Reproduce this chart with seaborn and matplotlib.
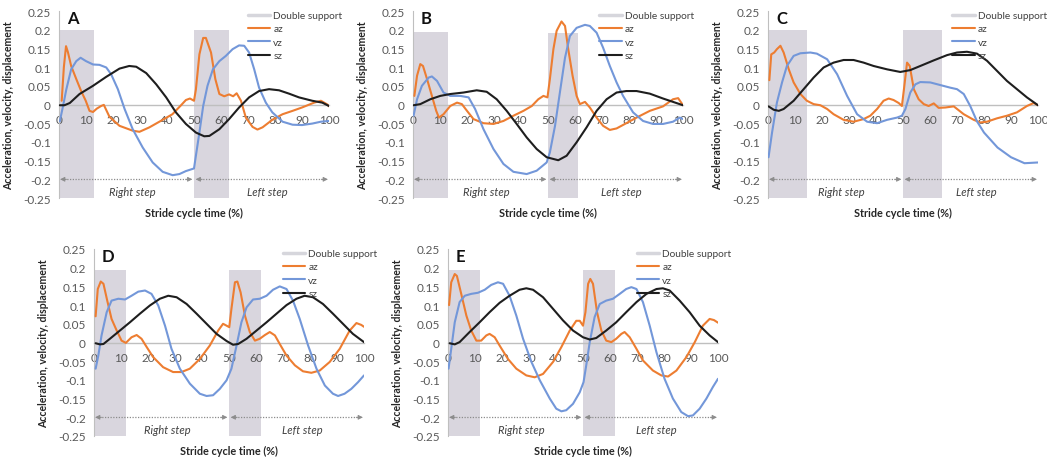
import matplotlib
matplotlib.use("Agg")
import matplotlib.pyplot as plt
import numpy as np
import pandas as pd
import seaborn as sns
from matplotlib.lines import Line2D

sns.set_theme(style="white")
plt.rcParams["font.family"] = ["Lato", "DejaVu Sans"]

# ---------------- data ----------------
panel_labels = ["A", "B", "C", "D", "E"]
series_names = ["az", "vz", "sz"]
legend_labels = ["Double support", "az", "vz", "sz"]
x_ticks = [0, 10, 20, 30, 40, 50, 60, 70, 80, 90, 100]
y_ticks = [0.25, 0.2, 0.15, 0.1, 0.05, 0, -0.05, -0.1, -0.15, -0.2, -0.25]
y_tick_labels = ["0.25", "0.2", "0.15", "0.1", "0.05", "0", "-0.05", "-0.1", "-0.15", "-0.2", "-0.25"]
step_labels = ["Right step", "Left step"]
x_label = "Stride cycle time (%)"
y_label = "Acceleration, velocity, displacement"

# double support intervals (start, end, top)
A_ds = [(0, 13, 0.2), (50, 63, 0.2)]
B_ds = [(0, 13, 0.195), (50, 61, 0.19)]
C_ds = [(0, 14.4, 0.2), (50, 64.4, 0.2)]
D_ds = [(0, 12, 0.195), (50, 62, 0.195)]
E_ds = [(0, 12, 0.195), (50, 62, 0.195)]

A_az = [(1, 0.01), (1.8, 0.1), (2.6, 0.156), (3.3, 0.14), (4.5, 0.103), (6.4, 0.068), (8.2, 0.036),
        (9.9, 0.01), (11.3, -0.017), (12.6, -0.02), (14, -0.011), (15.6, -0.004), (16.6, -0.001),
        (18.7, -0.033), (22.4, -0.057), (27.3, -0.07), (29.8, -0.073), (33.5, -0.061), (38.4, -0.041),
        (42, -0.026), (45.2, -0.002), (47, 0.012), (48.5, 0.016), (50, 0.01), (50.7, 0.04), (52, 0.134),
        (53.4, 0.178), (54.4, 0.178), (56.3, 0.139), (57.9, 0.068), (59.4, 0.028), (61.2, 0.022),
        (63, 0.027), (64.5, 0.022), (65.8, 0.03), (67.4, 0.01), (69.2, -0.035), (71.7, -0.06),
        (73.5, -0.067), (75.4, -0.061), (79, -0.041), (82.8, -0.026), (86.5, -0.017), (90, -0.008),
        (94.5, 0.005), (97, 0.01), (99.4, 0.0), (100, -0.005)]
A_vz = [(0.3, -0.045), (1.5, -0.004), (2.7, 0.04), (4.5, 0.094), (6.4, 0.116), (8, 0.125), (10, 0.116),
        (12.6, 0.107), (15, 0.106), (17.5, 0.099), (19.3, 0.081), (21.8, 0.041), (24.3, -0.012),
        (27.3, -0.066), (31, -0.115), (34.7, -0.155), (38.4, -0.18), (42.1, -0.189), (44.6, -0.186),
        (47, -0.178), (50, -0.171), (50.7, -0.137), (52, -0.075), (53.4, -0.004), (55, 0.05), (57, 0.094),
        (59.4, 0.116), (61.8, 0.13), (64.3, 0.148), (66.7, 0.158), (68.6, 0.157), (70.4, 0.139),
        (72.3, 0.094), (74.1, 0.045), (76.6, 0.005), (79, -0.021), (82.8, -0.046), (86.5, -0.054),
        (90, -0.055), (93.8, -0.051), (97, -0.046), (100, -0.044)]
A_sz = [(0.3, -0.002), (2, -0.002), (4, 0.004), (7.6, 0.028), (12.6, 0.05), (17.5, 0.074), (22.4, 0.096),
        (26, 0.103), (28.6, 0.101), (32.3, 0.084), (36, 0.054), (39.7, 0.019), (43.3, -0.021),
        (47, -0.052), (50.7, -0.075), (53.8, -0.085), (55.7, -0.084), (59.4, -0.066), (63, -0.039),
        (66.7, -0.008), (70.4, 0.019), (74.1, 0.036), (77.8, 0.041), (81.5, 0.038), (85.2, 0.029),
        (88.9, 0.019), (93.8, 0.01), (97.5, 0.005), (100, -0.004)]

B_az = [(0.5, 0.023), (1.5, 0.077), (2.7, 0.108), (3.7, 0.103), (5.2, 0.068), (7, 0.023), (8.6, -0.017),
        (9.6, -0.035), (11.3, -0.026), (13.8, -0.004), (16.3, 0.005), (18.1, 0.001), (20, -0.017),
        (22.4, -0.039), (26.1, -0.05), (29.8, -0.052), (33.5, -0.044), (37.2, -0.03), (40.9, -0.017),
        (44, -0.004), (46.4, 0.014), (48.3, 0.023), (49.8, 0.019), (50.7, 0.068), (52, 0.148),
        (53.2, 0.197), (55, 0.222), (56.3, 0.21), (57.5, 0.148), (59.1, 0.077), (60.6, 0.023),
        (61.8, 0.001), (63.7, 0.007), (65.5, -0.008), (68, -0.035), (70.4, -0.057), (72.9, -0.068),
        (75.4, -0.064), (79, -0.05), (82.8, -0.035), (87.7, -0.017), (92.6, -0.005), (96.3, 0.014),
        (98.2, 0.017), (100, -0.002)]
B_vz = [(0.2, -0.03), (1.5, 0.014), (3.3, 0.05), (5.8, 0.072), (7, 0.075), (8.9, 0.063), (11.3, 0.032),
        (13.8, 0.023), (17.5, 0.023), (20.6, 0.019), (23, -0.012), (26.1, -0.066), (29.8, -0.119),
        (33.5, -0.159), (37.2, -0.18), (42.1, -0.186), (45.8, -0.177), (49.5, -0.155), (50.7, -0.128),
        (52.6, -0.057), (54.4, 0.032), (56.3, 0.125), (58.1, 0.183), (60.6, 0.205), (63.7, 0.213),
        (65.5, 0.21), (68, 0.192), (70.4, 0.152), (72.9, 0.103), (75.4, 0.059), (77.8, 0.023),
        (81.5, -0.021), (85.2, -0.044), (88.9, -0.052), (92.6, -0.052), (96.3, -0.046), (98.8, -0.035),
        (100, -0.039)]
B_sz = [(0.2, -0.002), (2.7, 0.001), (6.4, 0.014), (10.1, 0.023), (13.8, 0.028), (18.7, 0.032),
        (23.6, 0.038), (27.3, 0.034), (31, 0.014), (34.7, -0.017), (38.4, -0.052), (42.1, -0.088),
        (45.8, -0.119), (49.5, -0.141), (53.8, -0.149), (56.9, -0.137), (60.6, -0.101), (64.3, -0.061),
        (68, -0.017), (71.7, 0.014), (75.4, 0.032), (79, 0.036), (82.8, 0.036), (87.7, 0.029),
        (92.6, 0.016), (96.3, 0.007), (100, -0.002)]

C_az = [(0.5, 0.065), (1.2, 0.134), (2.3, 0.139), (3.3, 0.148), (4.6, 0.157), (5.8, 0.139), (7.7, 0.094),
        (9.5, 0.059), (12, 0.028), (14.4, 0.01), (16.9, 0.001), (19.4, -0.002), (21.9, -0.012),
        (24.3, -0.026), (28, -0.041), (31.7, -0.046), (35.4, -0.039), (37.9, -0.03), (40.4, -0.012),
        (42.8, 0.01), (44.7, 0.016), (46.5, 0.012), (48.4, 0.004), (49.6, -0.004), (50.5, 0.05),
        (51.5, 0.112), (52.5, 0.103), (54, 0.041), (55.8, 0.014), (57.7, 0.001), (59.5, -0.004),
        (61.4, 0.003), (63.2, -0.009), (65.7, -0.008), (68.8, -0.005), (72.5, -0.026), (76.2, -0.041),
        (78.6, -0.048), (81.1, -0.046), (84.8, -0.037), (88.5, -0.03), (92.2, -0.021), (95.9, -0.004),
        (98.4, 0.004), (100, -0.002)]
C_vz = [(0.2, -0.141), (1.5, -0.075), (3.3, 0.005), (5.2, 0.059), (7, 0.103), (9.5, 0.13), (12, 0.137),
        (15.7, 0.139), (18.1, 0.136), (21.9, 0.121), (25.6, 0.081), (29.3, 0.023), (33, -0.026),
        (36.7, -0.046), (40.4, -0.05), (44.1, -0.041), (47.8, -0.035), (49.6, -0.03), (50.9, -0.012),
        (52.7, 0.032), (54.6, 0.054), (56.4, 0.06), (60.1, 0.059), (63.8, 0.052), (67.5, 0.045),
        (70, 0.041), (72.5, 0.028), (74.9, -0.004), (77.4, -0.045), (80, -0.075), (85, -0.115),
        (90, -0.141), (95, -0.157), (100, -0.155)]
C_sz = [(0.2, -0.005), (2.1, -0.014), (4, -0.017), (5.8, -0.012), (9.5, 0.01), (13.2, 0.041),
        (16.9, 0.072), (20.6, 0.099), (24.3, 0.112), (28, 0.119), (31.7, 0.119), (35.4, 0.112),
        (39.1, 0.103), (44.1, 0.094), (49, 0.087), (52.7, 0.092), (56.4, 0.103), (61.4, 0.118),
        (66.3, 0.132), (70, 0.139), (73.7, 0.141), (77.4, 0.136), (81.1, 0.117), (84.8, 0.09),
        (88.5, 0.063), (92.2, 0.041), (95.9, 0.019), (100, -0.002)]

D_az = [(0.6, 0.07), (1.4, 0.143), (2.5, 0.163), (3.5, 0.157), (4.9, 0.112), (6.5, 0.063), (8.4, 0.032),
        (10.2, 0.005), (11.8, -0.001), (13.9, 0.014), (15.8, 0.02), (17.6, 0.01), (19.5, -0.012),
        (21.9, -0.039), (25.6, -0.066), (29.3, -0.079), (32.4, -0.079), (35.5, -0.07), (39.2, -0.044),
        (42.9, -0.008), (46, 0.032), (47.8, 0.05), (49.1, 0.045), (50.1, 0.041), (50.9, 0.09),
        (52.2, 0.161), (53.1, 0.163), (54.3, 0.134), (55.9, 0.072), (57.7, 0.028), (59.6, 0.005),
        (61.4, 0.01), (63.3, 0.02), (65.1, 0.028), (67, 0.019), (68.8, -0.004), (71.3, -0.035),
        (74.4, -0.061), (77.4, -0.077), (80.5, -0.081), (83.6, -0.075), (87.3, -0.052), (91, -0.017),
        (94.7, 0.032), (97.2, 0.052), (99, 0.047), (100, 0.042)]
D_vz = [(0.6, -0.07), (1.6, -0.035), (2.8, 0.019), (4.7, 0.081), (6.5, 0.112), (9, 0.117), (11.5, 0.115),
        (13.9, 0.125), (16.4, 0.136), (18.9, 0.139), (21.3, 0.13), (23.8, 0.099), (26.3, 0.045),
        (28.7, -0.017), (31.8, -0.07), (35.5, -0.11), (39.2, -0.137), (41.7, -0.143), (44.1, -0.141),
        (46.6, -0.124), (49.1, -0.101), (50.9, -0.07), (52.8, -0.008), (54.6, 0.054), (56.5, 0.094),
        (58.9, 0.115), (61.4, 0.117), (63.9, 0.125), (66.3, 0.141), (68.8, 0.15), (71.3, 0.143),
        (73.7, 0.112), (76.2, 0.063), (79.3, -0.008), (82.4, -0.07), (85.5, -0.115), (88.5, -0.137),
        (90.4, -0.143), (92.8, -0.137), (95.3, -0.124), (97.8, -0.106), (100, -0.088)]
D_sz = [(0.6, -0.002), (2.2, -0.005), (3.5, -0.004), (5.9, 0.01), (9.6, 0.032), (13.3, 0.054),
        (17, 0.077), (20.7, 0.099), (24.4, 0.117), (27.5, 0.125), (30.6, 0.121), (34.3, 0.103),
        (38, 0.077), (41.7, 0.05), (45.4, 0.023), (49.1, 0.004), (51.5, -0.006), (53.4, -0.004),
        (56.5, 0.01), (60.2, 0.032), (63.9, 0.054), (67.6, 0.077), (71.3, 0.1), (75, 0.117), (78, 0.125),
        (81.1, 0.121), (84.8, 0.103), (88.5, 0.077), (92.2, 0.05), (95.9, 0.023), (100, 0.001)]

E_az = [(0.4, 0.1), (1.2, 0.161), (2.5, 0.183), (3.3, 0.178), (4.9, 0.13), (6.8, 0.072), (8.6, 0.032),
        (10.5, 0.005), (12.3, 0.005), (14.2, 0.019), (15.4, 0.023), (17.3, 0.014), (19.1, -0.008),
        (22.2, -0.044), (25.3, -0.07), (29, -0.088), (32.1, -0.093), (35.2, -0.084), (38.9, -0.052),
        (42, -0.012), (45.1, 0.032), (47.5, 0.058), (48.8, 0.058), (50, 0.045), (50.9, 0.081),
        (51.9, 0.157), (52.7, 0.17), (53.7, 0.157), (55.2, 0.081), (56.8, 0.032), (58.6, 0.005),
        (60.5, 0.001), (62.3, 0.01), (64.2, 0.023), (65.4, 0.028), (67.3, 0.014), (69.8, -0.017),
        (72.2, -0.048), (75.9, -0.075), (79, -0.088), (81.5, -0.091), (84.6, -0.075), (88.3, -0.039),
        (91.4, 0.001), (94.4, 0.045), (96.9, 0.063), (98.5, 0.06), (100, 0.053)]
E_vz = [(0.2, -0.07), (1.2, -0.017), (2.5, 0.054), (4.3, 0.108), (6.2, 0.125), (8.6, 0.13), (11.1, 0.133),
        (13.6, 0.141), (16, 0.154), (18.5, 0.161), (20.4, 0.157), (22.8, 0.125), (25.3, 0.072),
        (27.8, 0.01), (30.9, -0.052), (34, -0.101), (37.7, -0.15), (40.1, -0.177), (42, -0.184),
        (43.8, -0.181), (46.3, -0.164), (48.8, -0.133), (50.2, -0.106), (51.2, -0.061), (52.5, 0.001),
        (54.3, 0.068), (56.2, 0.103), (58.6, 0.112), (61.1, 0.117), (63.6, 0.13), (66, 0.143),
        (67.9, 0.148), (69.8, 0.143), (72.2, 0.108), (74.7, 0.045), (77.2, -0.026), (80.2, -0.097),
        (83.3, -0.15), (86.4, -0.186), (88.9, -0.197), (90.7, -0.195), (93.2, -0.177), (95.7, -0.15),
        (98.1, -0.119), (100, -0.097)]
E_sz = [(0.6, -0.002), (2.5, -0.005), (4.3, 0.001), (8, 0.028), (11.7, 0.054), (15.4, 0.081),
        (19.1, 0.106), (22.8, 0.125), (26.5, 0.141), (29, 0.145), (31.5, 0.141), (35.2, 0.121),
        (38.9, 0.09), (42.6, 0.059), (46.3, 0.032), (50, 0.014), (52.5, 0.008), (54.9, 0.012),
        (58.6, 0.032), (62.3, 0.054), (66, 0.081), (69.8, 0.108), (73.5, 0.13), (77.2, 0.143),
        (79.6, 0.145), (82.1, 0.139), (85.8, 0.112), (89.5, 0.081), (93.2, 0.045), (96.9, 0.019),
        (100, 0.001)]

# ---------------- style ----------------
colors = {"az": "#ED7D31", "vz": "#7397D9", "sz": "#1E1E1E"}
ds_color = "#D9D6DE"
axis_gray = "#BFBFBF"
text_gray = "#595959"
dark_text = "#262626"
arrow_gray = "#8C8C8C"

panel_data = {
    "A": (A_ds, A_az, A_vz, A_sz),
    "B": (B_ds, B_az, B_vz, B_sz),
    "C": (C_ds, C_az, C_vz, C_sz),
    "D": (D_ds, D_az, D_vz, D_sz),
    "E": (E_ds, E_az, E_vz, E_sz),
}

W, H = 1047, 460
ax_w, ax_h = 270 / W, 187 / H
positions = {
    "A": [59 / W, 1 - 199 / H, ax_w, ax_h],
    "B": [413 / W, 1 - 199 / H, ax_w, ax_h],
    "C": [768 / W, 1 - 199 / H, ax_w, ax_h],
    "D": [94 / W, 1 - 437 / H, ax_w, ax_h],
    "E": [448 / W, 1 - 437 / H, ax_w, ax_h],
}
legend_x = {"A": 0.70, "B": 0.69, "C": 0.683, "D": 0.70, "E": 0.70}

fig = plt.figure(figsize=(W / 100, H / 100), dpi=100)
fig.patch.set_facecolor("white")

for lab in panel_labels:
    ds, az, vz, sz = panel_data[lab]
    ax = fig.add_axes(positions[lab])
    ax.set_facecolor("white")

    for (s, e, top) in ds:
        ax.fill_between([s, e], -0.25, top, color=ds_color, lw=0, zorder=0)

    frames = []
    for name, pts in zip(series_names, [az, vz, sz]):
        d = pd.DataFrame(pts, columns=["x", "y"])
        d["series"] = name
        frames.append(d)
    df = pd.concat(frames, ignore_index=True)
    sns.lineplot(data=df, x="x", y="y", hue="series", palette=colors,
                 hue_order=["az", "vz", "sz"], estimator=None, sort=False,
                 lw=1.5, legend=False, ax=ax, zorder=3)

    ax.set_xlim(0, 100)
    ax.set_ylim(-0.25, 0.25)

    ax.spines["top"].set_visible(False)
    ax.spines["right"].set_visible(False)
    ax.spines["bottom"].set_position(("data", 0))
    ax.spines["bottom"].set_color(axis_gray)
    ax.spines["bottom"].set_linewidth(1.0)
    ax.spines["bottom"].set_zorder(2)
    ax.spines["left"].set_color(axis_gray)
    ax.spines["left"].set_linewidth(0.8)

    ax.set_xticks(x_ticks)
    ax.set_xticklabels([str(t) for t in x_ticks])
    ax.set_xticks(np.arange(5, 100, 10), minor=True)
    ax.tick_params(axis="x", which="both", direction="in", length=3, width=0.8,
                   color=axis_gray, labelsize=8.5, labelcolor=text_gray, pad=6.5)
    ax.set_yticks(y_ticks)
    ax.set_yticklabels(y_tick_labels)
    ax.tick_params(axis="y", direction="out", length=3, width=0.8, color=axis_gray,
                   labelsize=8.5, labelcolor=text_gray, pad=3)
    ax.grid(False)

    ax.set_xlabel("")
    ax.set_ylabel(y_label, fontsize=7.6, fontweight="bold", color=dark_text)
    ax.yaxis.set_label_coords(-0.165, 0.5)
    ax.text(0.5, -0.078, x_label, transform=ax.transAxes, ha="center", va="center",
            fontsize=7.8, fontweight="bold", color=dark_text)

    ax.text(3, 0.232, lab, fontsize=12, fontweight="bold", color="#111111",
            va="center", ha="left", zorder=5)

    # step arrows
    for (x0, x1) in [(0.4, 49.4), (50.6, 99.6)]:
        ax.plot([x0 + 1.5, x1 - 1.5], [-0.2, -0.2], color=arrow_gray, lw=0.9,
                ls=(0, (1, 1.2)), zorder=2)
        ax.annotate("", xy=(x0, -0.2), xytext=(x0 + 2.5, -0.2),
                    arrowprops=dict(arrowstyle="-|>", color=arrow_gray, lw=0.6,
                                    mutation_scale=7, shrinkA=0, shrinkB=0), zorder=2)
        ax.annotate("", xy=(x1, -0.2), xytext=(x1 - 2.5, -0.2),
                    arrowprops=dict(arrowstyle="-|>", color=arrow_gray, lw=0.6,
                                    mutation_scale=7, shrinkA=0, shrinkB=0), zorder=2)
    ax.text(27, -0.232, step_labels[0], fontsize=8, style="italic", color="#404040",
            ha="center", va="center")
    ax.text(77, -0.232, step_labels[1], fontsize=8, style="italic", color="#404040",
            ha="center", va="center")

    handles = [Line2D([0], [0], color="#D6D6DC", lw=2.5),
               Line2D([0], [0], color=colors["az"], lw=1.5),
               Line2D([0], [0], color=colors["vz"], lw=1.5),
               Line2D([0], [0], color=colors["sz"], lw=1.5)]
    leg = ax.legend(handles, legend_labels, loc="upper left", bbox_to_anchor=(legend_x[lab], 1.0),
                    frameon=False, fontsize=7.3, handlelength=2.2, handletextpad=0.3,
                    labelspacing=0.42, borderpad=0, borderaxespad=0)
    for t in leg.get_texts():
        t.set_color("#404040")
    leg.set_zorder(6)

fig.savefig("out.png", dpi=100, facecolor="white")
